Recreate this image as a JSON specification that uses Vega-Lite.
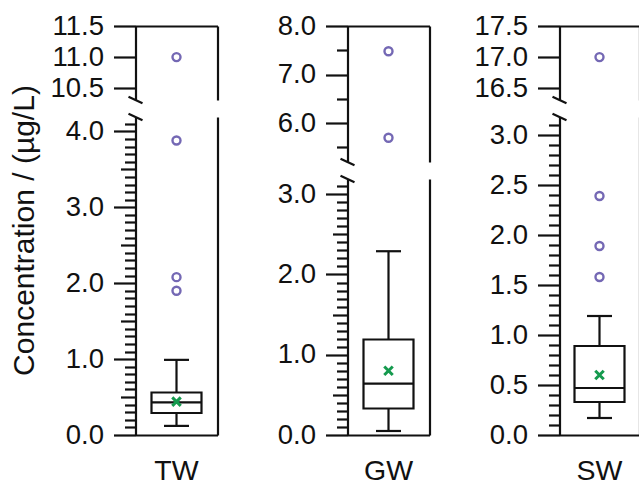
{
"$schema": "https://vega.github.io/schema/vega-lite/v6.json",
"padding": {"left": 8.5, "top": 12, "right": 0, "bottom": 0},
"config": {
  "view": {"stroke": null},
  "axis": {"domainColor": "#111111", "domainWidth": 2.2, "tickColor": "#111111", "tickWidth": 2.2, "labelFont": "Liberation Sans", "labelFontSize": 27.5, "labelColor": "#111111", "titleFont": "Liberation Sans", "titleFontSize": 30, "titleFontWeight": "normal", "titleColor": "#111111", "grid": false, "labelOverlap": false, "labelFlush": false, "labelBound": false},
  "axisBottom": {"ticks": false, "tickSize": 0, "labelPadding": 21, "labelFontSize": 28.5, "labelAngle": 0},
  "axisTop": {"ticks": false, "tickSize": 0, "labels": false},
  "axisRight": {"ticks": false, "tickSize": 0, "labels": false}
},
"datasets": {
  "stats": [
    {"group": "TW", "lower": 0.12, "q1": 0.29, "median": 0.43, "q3": 0.56, "upper": 0.99, "mean": 0.44},
    {"group": "GW", "lower": 0.05, "q1": 0.33, "median": 0.64, "q3": 1.19, "upper": 2.29, "mean": 0.80},
    {"group": "SW", "lower": 0.17, "q1": 0.33, "median": 0.47, "q3": 0.89, "upper": 1.19, "mean": 0.60}
  ],
  "outliers": [
    {"group": "TW", "value": 1.90}, {"group": "TW", "value": 2.08}, {"group": "TW", "value": 3.88}, {"group": "TW", "value": 11.0},
    {"group": "GW", "value": 5.70}, {"group": "GW", "value": 7.48},
    {"group": "SW", "value": 1.58}, {"group": "SW", "value": 1.89}, {"group": "SW", "value": 2.39}, {"group": "SW", "value": 17.0}
  ]
},
"hconcat": [
 {"vconcat": [
  {"width": 82, "height": 74, "resolve": {"axis": {"y": "independent"}},
   "layer": [
    {"data": {"name": "outliers"}, "transform": [{"filter": {"field": "group", "equal": "TW"}}, {"filter": {"field": "value", "gte": 10.31}}],
     "mark": {"type": "point", "shape": "circle", "size": 64, "color": "#7468b4", "strokeWidth": 2.4, "filled": false, "opacity": 1},
     "encoding": {
      "x": {"field": "group", "type": "nominal", "scale": {"type": "band", "paddingInner": 0, "paddingOuter": 0}, "axis": {"orient": "top", "title": null}},
      "y": {"field": "value", "type": "quantitative", "scale": {"domain": [10.31, 11.5], "nice": false, "zero": false}, "axis": {"orient": "left", "values": [10.5, 11, 11.5], "format": ".1f", "tickSize": 22, "labelPadding": 10, "title": null}}}},
    {"data": {"name": "outliers"}, "transform": [{"filter": {"field": "group", "equal": "TW"}}, {"filter": {"field": "value", "gte": 10.31}}],
     "mark": {"type": "point", "shape": "circle", "size": 64, "filled": false, "opacity": 0},
     "encoding": {
      "x": {"field": "group", "type": "nominal", "scale": {"type": "band", "paddingInner": 0, "paddingOuter": 0}, "axis": {"orient": "top", "title": null}},
      "y": {"field": "value", "type": "quantitative", "scale": {"domain": [10.31, 11.5], "nice": false, "zero": false}, "axis": {"orient": "right", "domain": true, "title": null}}}},
    {"data": {"name": "stats"}, "transform": [{"filter": {"field": "group", "equal": "TW"}}],
     "mark": {"type": "point", "shape": "M-1,-0.47L1,0.47", "size": 196, "color": "#111111", "strokeWidth": 2.2, "filled": false, "opacity": 1},
     "encoding": {
      "x": {"field": "group", "type": "nominal", "bandPosition": 0, "scale": {"type": "band", "paddingInner": 0, "paddingOuter": 0}, "axis": {"orient": "top", "title": null}},
      "y": {"datum": 10.31, "type": "quantitative", "scale": {"domain": [10.31, 11.5], "nice": false, "zero": false}, "axis": null}}}
   ]},
  {"width": 82, "height": 318, "resolve": {"axis": {"y": "independent"}},
   "layer": [
    {"data": {"name": "stats"}, "transform": [{"filter": {"field": "group", "equal": "TW"}}],
     "mark": {"type": "rule", "color": "#111111", "strokeWidth": 2.2},
     "encoding": {
      "x": {"field": "group", "type": "nominal", "scale": {"type": "band", "paddingInner": 0, "paddingOuter": 0}, "axis": {"orient": "bottom", "title": null}},
      "y": {"field": "lower", "type": "quantitative", "scale": {"domain": [0, 4.19], "nice": false, "zero": false}, "axis": {"orient": "left", "values": [0, 1, 2, 3, 4], "format": ".1f", "tickSize": 22, "labelPadding": 10, "title": "Concentration / (µg/L)", "titleX": -102.5, "titleY": 113, "titleBaseline": "alphabetic"}},
      "y2": {"field": "upper"}}},
    {"data": {"name": "stats"}, "transform": [{"filter": {"field": "group", "equal": "TW"}}],
     "mark": {"type": "bar", "width": 50, "fill": "white", "stroke": "#111111", "strokeWidth": 2.2},
     "encoding": {
      "x": {"field": "group", "type": "nominal", "scale": {"type": "band", "paddingInner": 0, "paddingOuter": 0}, "axis": {"orient": "bottom", "title": null}},
      "y": {"field": "q1", "type": "quantitative", "scale": {"domain": [0, 4.19], "nice": false, "zero": false}, "axis": {"orient": "left", "values": [0.5, 1.5, 2.5, 3.5], "tickSize": 15, "labels": false, "domain": false, "title": null}},
      "y2": {"field": "q3"}}},
    {"data": {"name": "stats"}, "transform": [{"filter": {"field": "group", "equal": "TW"}}],
     "mark": {"type": "tick", "size": 50, "thickness": 2.2, "color": "#111111", "opacity": 1},
     "encoding": {
      "x": {"field": "group", "type": "nominal", "scale": {"type": "band", "paddingInner": 0, "paddingOuter": 0}, "axis": {"orient": "bottom", "title": null}},
      "y": {"field": "median", "type": "quantitative", "scale": {"domain": [0, 4.19], "nice": false, "zero": false}, "axis": {"orient": "left", "values": [0.1,0.2,0.3,0.4,0.6,0.7,0.8,0.9,1.1,1.2,1.3,1.4,1.6,1.7,1.8,1.9,2.1,2.2,2.3,2.4,2.6,2.7,2.8,2.9,3.1,3.2,3.3,3.4,3.6,3.7,3.8,3.9,4.1], "tickSize": 11, "labels": false, "domain": false, "title": null}}}},
    {"data": {"name": "stats"}, "transform": [{"filter": {"field": "group", "equal": "TW"}}],
     "mark": {"type": "tick", "size": 25, "thickness": 2.2, "color": "#111111", "opacity": 1},
     "encoding": {
      "x": {"field": "group", "type": "nominal", "scale": {"type": "band", "paddingInner": 0, "paddingOuter": 0}, "axis": {"orient": "bottom", "title": null}},
      "y": {"field": "lower", "type": "quantitative", "scale": {"domain": [0, 4.19], "nice": false, "zero": false}, "axis": {"orient": "right", "domain": true, "title": null}}}},
    {"data": {"name": "stats"}, "transform": [{"filter": {"field": "group", "equal": "TW"}}],
     "mark": {"type": "tick", "size": 25, "thickness": 2.2, "color": "#111111", "opacity": 1},
     "encoding": {
      "x": {"field": "group", "type": "nominal", "scale": {"type": "band", "paddingInner": 0, "paddingOuter": 0}, "axis": {"orient": "bottom", "title": null}},
      "y": {"field": "upper", "type": "quantitative", "scale": {"domain": [0, 4.19], "nice": false, "zero": false}, "axis": null}}},
    {"data": {"name": "stats"}, "transform": [{"filter": {"field": "group", "equal": "TW"}}],
     "mark": {"type": "point", "shape": "M-1,-1L1,1M-1,1L1,-1", "size": 72, "color": "#159a4e", "strokeWidth": 3, "filled": false, "opacity": 1},
     "encoding": {
      "x": {"field": "group", "type": "nominal", "scale": {"type": "band", "paddingInner": 0, "paddingOuter": 0}, "axis": {"orient": "bottom", "title": null}},
      "y": {"field": "mean", "type": "quantitative", "scale": {"domain": [0, 4.19], "nice": false, "zero": false}, "axis": null}}},
    {"data": {"name": "outliers"}, "transform": [{"filter": {"field": "group", "equal": "TW"}}, {"filter": {"field": "value", "lte": 4.19}}],
     "mark": {"type": "point", "shape": "circle", "size": 64, "color": "#7468b4", "strokeWidth": 2.4, "filled": false, "opacity": 1},
     "encoding": {
      "x": {"field": "group", "type": "nominal", "scale": {"type": "band", "paddingInner": 0, "paddingOuter": 0}, "axis": {"orient": "bottom", "title": null}},
      "y": {"field": "value", "type": "quantitative", "scale": {"domain": [0, 4.19], "nice": false, "zero": false}, "axis": null}}},
    {"data": {"name": "stats"}, "transform": [{"filter": {"field": "group", "equal": "TW"}}],
     "mark": {"type": "point", "shape": "M-1,-0.47L1,0.47", "size": 196, "color": "#111111", "strokeWidth": 2.2, "filled": false, "opacity": 1},
     "encoding": {
      "x": {"field": "group", "type": "nominal", "bandPosition": 0, "scale": {"type": "band", "paddingInner": 0, "paddingOuter": 0}, "axis": {"orient": "bottom", "title": null}},
      "y": {"datum": 4.19, "type": "quantitative", "scale": {"domain": [0, 4.19], "nice": false, "zero": false}, "axis": null}}}
   ]}
 ], "spacing": 17, "bounds": "flush"},
 {"vconcat": [
  {"width": 82, "height": 136, "resolve": {"axis": {"y": "independent"}},
   "layer": [
    {"data": {"name": "outliers"}, "transform": [{"filter": {"field": "group", "equal": "GW"}}, {"filter": {"field": "value", "gte": 5.2}}],
     "mark": {"type": "point", "shape": "circle", "size": 64, "color": "#7468b4", "strokeWidth": 2.4, "filled": false, "opacity": 1},
     "encoding": {
      "x": {"field": "group", "type": "nominal", "scale": {"type": "band", "paddingInner": 0, "paddingOuter": 0}, "axis": {"orient": "top", "title": null}},
      "y": {"field": "value", "type": "quantitative", "scale": {"domain": [5.2, 8.0], "nice": false, "zero": false}, "axis": {"orient": "left", "values": [6, 7, 8], "format": ".1f", "tickSize": 22, "labelPadding": 10, "title": null}}}},
    {"data": {"name": "outliers"}, "transform": [{"filter": {"field": "group", "equal": "GW"}}, {"filter": {"field": "value", "gte": 5.2}}],
     "mark": {"type": "point", "shape": "circle", "size": 64, "filled": false, "opacity": 0},
     "encoding": {
      "x": {"field": "group", "type": "nominal", "scale": {"type": "band", "paddingInner": 0, "paddingOuter": 0}, "axis": {"orient": "top", "title": null}},
      "y": {"field": "value", "type": "quantitative", "scale": {"domain": [5.2, 8.0], "nice": false, "zero": false}, "axis": {"orient": "left", "values": [5.5, 6.5, 7.5], "tickSize": 11, "labels": false, "domain": false, "title": null}}}},
    {"data": {"name": "outliers"}, "transform": [{"filter": {"field": "group", "equal": "GW"}}, {"filter": {"field": "value", "gte": 5.2}}],
     "mark": {"type": "point", "shape": "circle", "size": 64, "filled": false, "opacity": 0},
     "encoding": {
      "x": {"field": "group", "type": "nominal", "scale": {"type": "band", "paddingInner": 0, "paddingOuter": 0}, "axis": {"orient": "top", "title": null}},
      "y": {"field": "value", "type": "quantitative", "scale": {"domain": [5.2, 8.0], "nice": false, "zero": false}, "axis": {"orient": "right", "domain": true, "title": null}}}},
    {"data": {"name": "stats"}, "transform": [{"filter": {"field": "group", "equal": "GW"}}],
     "mark": {"type": "point", "shape": "M-1,-0.47L1,0.47", "size": 196, "color": "#111111", "strokeWidth": 2.2, "filled": false, "opacity": 1},
     "encoding": {
      "x": {"field": "group", "type": "nominal", "bandPosition": 0, "scale": {"type": "band", "paddingInner": 0, "paddingOuter": 0}, "axis": {"orient": "top", "title": null}},
      "y": {"datum": 5.2, "type": "quantitative", "scale": {"domain": [5.2, 8.0], "nice": false, "zero": false}, "axis": null}}}
   ]},
  {"width": 82, "height": 256, "resolve": {"axis": {"y": "independent"}},
   "layer": [
    {"data": {"name": "stats"}, "transform": [{"filter": {"field": "group", "equal": "GW"}}],
     "mark": {"type": "rule", "color": "#111111", "strokeWidth": 2.2},
     "encoding": {
      "x": {"field": "group", "type": "nominal", "scale": {"type": "band", "paddingInner": 0, "paddingOuter": 0}, "axis": {"orient": "bottom", "title": null}},
      "y": {"field": "lower", "type": "quantitative", "scale": {"domain": [0, 3.19], "nice": false, "zero": false}, "axis": {"orient": "left", "values": [0, 1, 2, 3], "format": ".1f", "tickSize": 22, "labelPadding": 10, "title": null}},
      "y2": {"field": "upper"}}},
    {"data": {"name": "stats"}, "transform": [{"filter": {"field": "group", "equal": "GW"}}],
     "mark": {"type": "bar", "width": 50, "fill": "white", "stroke": "#111111", "strokeWidth": 2.2},
     "encoding": {
      "x": {"field": "group", "type": "nominal", "scale": {"type": "band", "paddingInner": 0, "paddingOuter": 0}, "axis": {"orient": "bottom", "title": null}},
      "y": {"field": "q1", "type": "quantitative", "scale": {"domain": [0, 3.19], "nice": false, "zero": false}, "axis": {"orient": "left", "values": [0.5, 1.5, 2.5], "tickSize": 15, "labels": false, "domain": false, "title": null}},
      "y2": {"field": "q3"}}},
    {"data": {"name": "stats"}, "transform": [{"filter": {"field": "group", "equal": "GW"}}],
     "mark": {"type": "tick", "size": 50, "thickness": 2.2, "color": "#111111", "opacity": 1},
     "encoding": {
      "x": {"field": "group", "type": "nominal", "scale": {"type": "band", "paddingInner": 0, "paddingOuter": 0}, "axis": {"orient": "bottom", "title": null}},
      "y": {"field": "median", "type": "quantitative", "scale": {"domain": [0, 3.19], "nice": false, "zero": false}, "axis": {"orient": "left", "values": [0.1,0.2,0.3,0.4,0.6,0.7,0.8,0.9,1.1,1.2,1.3,1.4,1.6,1.7,1.8,1.9,2.1,2.2,2.3,2.4,2.6,2.7,2.8,2.9,3.1], "tickSize": 11, "labels": false, "domain": false, "title": null}}}},
    {"data": {"name": "stats"}, "transform": [{"filter": {"field": "group", "equal": "GW"}}],
     "mark": {"type": "tick", "size": 25, "thickness": 2.2, "color": "#111111", "opacity": 1},
     "encoding": {
      "x": {"field": "group", "type": "nominal", "scale": {"type": "band", "paddingInner": 0, "paddingOuter": 0}, "axis": {"orient": "bottom", "title": null}},
      "y": {"field": "lower", "type": "quantitative", "scale": {"domain": [0, 3.19], "nice": false, "zero": false}, "axis": {"orient": "right", "domain": true, "title": null}}}},
    {"data": {"name": "stats"}, "transform": [{"filter": {"field": "group", "equal": "GW"}}],
     "mark": {"type": "tick", "size": 25, "thickness": 2.2, "color": "#111111", "opacity": 1},
     "encoding": {
      "x": {"field": "group", "type": "nominal", "scale": {"type": "band", "paddingInner": 0, "paddingOuter": 0}, "axis": {"orient": "bottom", "title": null}},
      "y": {"field": "upper", "type": "quantitative", "scale": {"domain": [0, 3.19], "nice": false, "zero": false}, "axis": null}}},
    {"data": {"name": "stats"}, "transform": [{"filter": {"field": "group", "equal": "GW"}}],
     "mark": {"type": "point", "shape": "M-1,-1L1,1M-1,1L1,-1", "size": 72, "color": "#159a4e", "strokeWidth": 3, "filled": false, "opacity": 1},
     "encoding": {
      "x": {"field": "group", "type": "nominal", "scale": {"type": "band", "paddingInner": 0, "paddingOuter": 0}, "axis": {"orient": "bottom", "title": null}},
      "y": {"field": "mean", "type": "quantitative", "scale": {"domain": [0, 3.19], "nice": false, "zero": false}, "axis": null}}},
    {"data": {"name": "outliers"}, "transform": [{"filter": {"field": "group", "equal": "GW"}}, {"filter": {"field": "value", "lte": 3.19}}],
     "mark": {"type": "point", "shape": "circle", "size": 64, "color": "#7468b4", "strokeWidth": 2.4, "filled": false, "opacity": 1},
     "encoding": {
      "x": {"field": "group", "type": "nominal", "scale": {"type": "band", "paddingInner": 0, "paddingOuter": 0}, "axis": {"orient": "bottom", "title": null}},
      "y": {"field": "value", "type": "quantitative", "scale": {"domain": [0, 3.19], "nice": false, "zero": false}, "axis": null}}},
    {"data": {"name": "stats"}, "transform": [{"filter": {"field": "group", "equal": "GW"}}],
     "mark": {"type": "point", "shape": "M-1,-0.47L1,0.47", "size": 196, "color": "#111111", "strokeWidth": 2.2, "filled": false, "opacity": 1},
     "encoding": {
      "x": {"field": "group", "type": "nominal", "bandPosition": 0, "scale": {"type": "band", "paddingInner": 0, "paddingOuter": 0}, "axis": {"orient": "bottom", "title": null}},
      "y": {"datum": 3.19, "type": "quantitative", "scale": {"domain": [0, 3.19], "nice": false, "zero": false}, "axis": null}}}
   ]}
 ], "spacing": 17, "bounds": "flush"},
 {"vconcat": [
  {"width": 80, "height": 74, "resolve": {"axis": {"y": "independent"}},
   "layer": [
    {"data": {"name": "outliers"}, "transform": [{"filter": {"field": "group", "equal": "SW"}}, {"filter": {"field": "value", "gte": 16.31}}],
     "mark": {"type": "point", "shape": "circle", "size": 64, "color": "#7468b4", "strokeWidth": 2.4, "filled": false, "opacity": 1},
     "encoding": {
      "x": {"field": "group", "type": "nominal", "scale": {"type": "band", "paddingInner": 0, "paddingOuter": 0}, "axis": {"orient": "top", "title": null}},
      "y": {"field": "value", "type": "quantitative", "scale": {"domain": [16.31, 17.5], "nice": false, "zero": false}, "axis": {"orient": "left", "values": [16.5, 17, 17.5], "format": ".1f", "tickSize": 22, "labelPadding": 10, "title": null}}}},
    {"data": {"name": "outliers"}, "transform": [{"filter": {"field": "group", "equal": "SW"}}, {"filter": {"field": "value", "gte": 16.31}}],
     "mark": {"type": "point", "shape": "circle", "size": 64, "filled": false, "opacity": 0},
     "encoding": {
      "x": {"field": "group", "type": "nominal", "scale": {"type": "band", "paddingInner": 0, "paddingOuter": 0}, "axis": {"orient": "top", "title": null}},
      "y": {"field": "value", "type": "quantitative", "scale": {"domain": [16.31, 17.5], "nice": false, "zero": false}, "axis": {"orient": "right", "domain": true, "title": null}}}},
    {"data": {"name": "stats"}, "transform": [{"filter": {"field": "group", "equal": "SW"}}],
     "mark": {"type": "point", "shape": "M-1,-0.47L1,0.47", "size": 196, "color": "#111111", "strokeWidth": 2.2, "filled": false, "opacity": 1},
     "encoding": {
      "x": {"field": "group", "type": "nominal", "bandPosition": 0, "scale": {"type": "band", "paddingInner": 0, "paddingOuter": 0}, "axis": {"orient": "top", "title": null}},
      "y": {"datum": 16.31, "type": "quantitative", "scale": {"domain": [16.31, 17.5], "nice": false, "zero": false}, "axis": null}}}
   ]},
  {"width": 80, "height": 318, "resolve": {"axis": {"y": "independent"}},
   "layer": [
    {"data": {"name": "stats"}, "transform": [{"filter": {"field": "group", "equal": "SW"}}],
     "mark": {"type": "rule", "color": "#111111", "strokeWidth": 2.2},
     "encoding": {
      "x": {"field": "group", "type": "nominal", "scale": {"type": "band", "paddingInner": 0, "paddingOuter": 0}, "axis": {"orient": "bottom", "title": null}},
      "y": {"field": "lower", "type": "quantitative", "scale": {"domain": [0, 3.18], "nice": false, "zero": false}, "axis": {"orient": "left", "values": [0, 0.5, 1, 1.5, 2, 2.5, 3], "format": ".1f", "tickSize": 22, "labelPadding": 10, "title": null}},
      "y2": {"field": "upper"}}},
    {"data": {"name": "stats"}, "transform": [{"filter": {"field": "group", "equal": "SW"}}],
     "mark": {"type": "bar", "width": 50, "fill": "white", "stroke": "#111111", "strokeWidth": 2.2},
     "encoding": {
      "x": {"field": "group", "type": "nominal", "scale": {"type": "band", "paddingInner": 0, "paddingOuter": 0}, "axis": {"orient": "bottom", "title": null}},
      "y": {"field": "q1", "type": "quantitative", "scale": {"domain": [0, 3.18], "nice": false, "zero": false}, "axis": null},
      "y2": {"field": "q3"}}},
    {"data": {"name": "stats"}, "transform": [{"filter": {"field": "group", "equal": "SW"}}],
     "mark": {"type": "tick", "size": 50, "thickness": 2.2, "color": "#111111", "opacity": 1},
     "encoding": {
      "x": {"field": "group", "type": "nominal", "scale": {"type": "band", "paddingInner": 0, "paddingOuter": 0}, "axis": {"orient": "bottom", "title": null}},
      "y": {"field": "median", "type": "quantitative", "scale": {"domain": [0, 3.18], "nice": false, "zero": false}, "axis": {"orient": "left", "values": [0.1,0.2,0.3,0.4,0.6,0.7,0.8,0.9,1.1,1.2,1.3,1.4,1.6,1.7,1.8,1.9,2.1,2.2,2.3,2.4,2.6,2.7,2.8,2.9,3.1], "tickSize": 11, "labels": false, "domain": false, "title": null}}}},
    {"data": {"name": "stats"}, "transform": [{"filter": {"field": "group", "equal": "SW"}}],
     "mark": {"type": "tick", "size": 25, "thickness": 2.2, "color": "#111111", "opacity": 1},
     "encoding": {
      "x": {"field": "group", "type": "nominal", "scale": {"type": "band", "paddingInner": 0, "paddingOuter": 0}, "axis": {"orient": "bottom", "title": null}},
      "y": {"field": "lower", "type": "quantitative", "scale": {"domain": [0, 3.18], "nice": false, "zero": false}, "axis": {"orient": "right", "domain": true, "title": null}}}},
    {"data": {"name": "stats"}, "transform": [{"filter": {"field": "group", "equal": "SW"}}],
     "mark": {"type": "tick", "size": 25, "thickness": 2.2, "color": "#111111", "opacity": 1},
     "encoding": {
      "x": {"field": "group", "type": "nominal", "scale": {"type": "band", "paddingInner": 0, "paddingOuter": 0}, "axis": {"orient": "bottom", "title": null}},
      "y": {"field": "upper", "type": "quantitative", "scale": {"domain": [0, 3.18], "nice": false, "zero": false}, "axis": null}}},
    {"data": {"name": "stats"}, "transform": [{"filter": {"field": "group", "equal": "SW"}}],
     "mark": {"type": "point", "shape": "M-1,-1L1,1M-1,1L1,-1", "size": 72, "color": "#159a4e", "strokeWidth": 3, "filled": false, "opacity": 1},
     "encoding": {
      "x": {"field": "group", "type": "nominal", "scale": {"type": "band", "paddingInner": 0, "paddingOuter": 0}, "axis": {"orient": "bottom", "title": null}},
      "y": {"field": "mean", "type": "quantitative", "scale": {"domain": [0, 3.18], "nice": false, "zero": false}, "axis": null}}},
    {"data": {"name": "outliers"}, "transform": [{"filter": {"field": "group", "equal": "SW"}}, {"filter": {"field": "value", "lte": 3.18}}],
     "mark": {"type": "point", "shape": "circle", "size": 64, "color": "#7468b4", "strokeWidth": 2.4, "filled": false, "opacity": 1},
     "encoding": {
      "x": {"field": "group", "type": "nominal", "scale": {"type": "band", "paddingInner": 0, "paddingOuter": 0}, "axis": {"orient": "bottom", "title": null}},
      "y": {"field": "value", "type": "quantitative", "scale": {"domain": [0, 3.18], "nice": false, "zero": false}, "axis": null}}},
    {"data": {"name": "stats"}, "transform": [{"filter": {"field": "group", "equal": "SW"}}],
     "mark": {"type": "point", "shape": "M-1,-0.47L1,0.47", "size": 196, "color": "#111111", "strokeWidth": 2.2, "filled": false, "opacity": 1},
     "encoding": {
      "x": {"field": "group", "type": "nominal", "bandPosition": 0, "scale": {"type": "band", "paddingInner": 0, "paddingOuter": 0}, "axis": {"orient": "bottom", "title": null}},
      "y": {"datum": 3.18, "type": "quantitative", "scale": {"domain": [0, 3.18], "nice": false, "zero": false}, "axis": null}}}
   ]}
 ], "spacing": 17, "bounds": "flush"}
],
"spacing": 212,
"bounds": "flush"
}
